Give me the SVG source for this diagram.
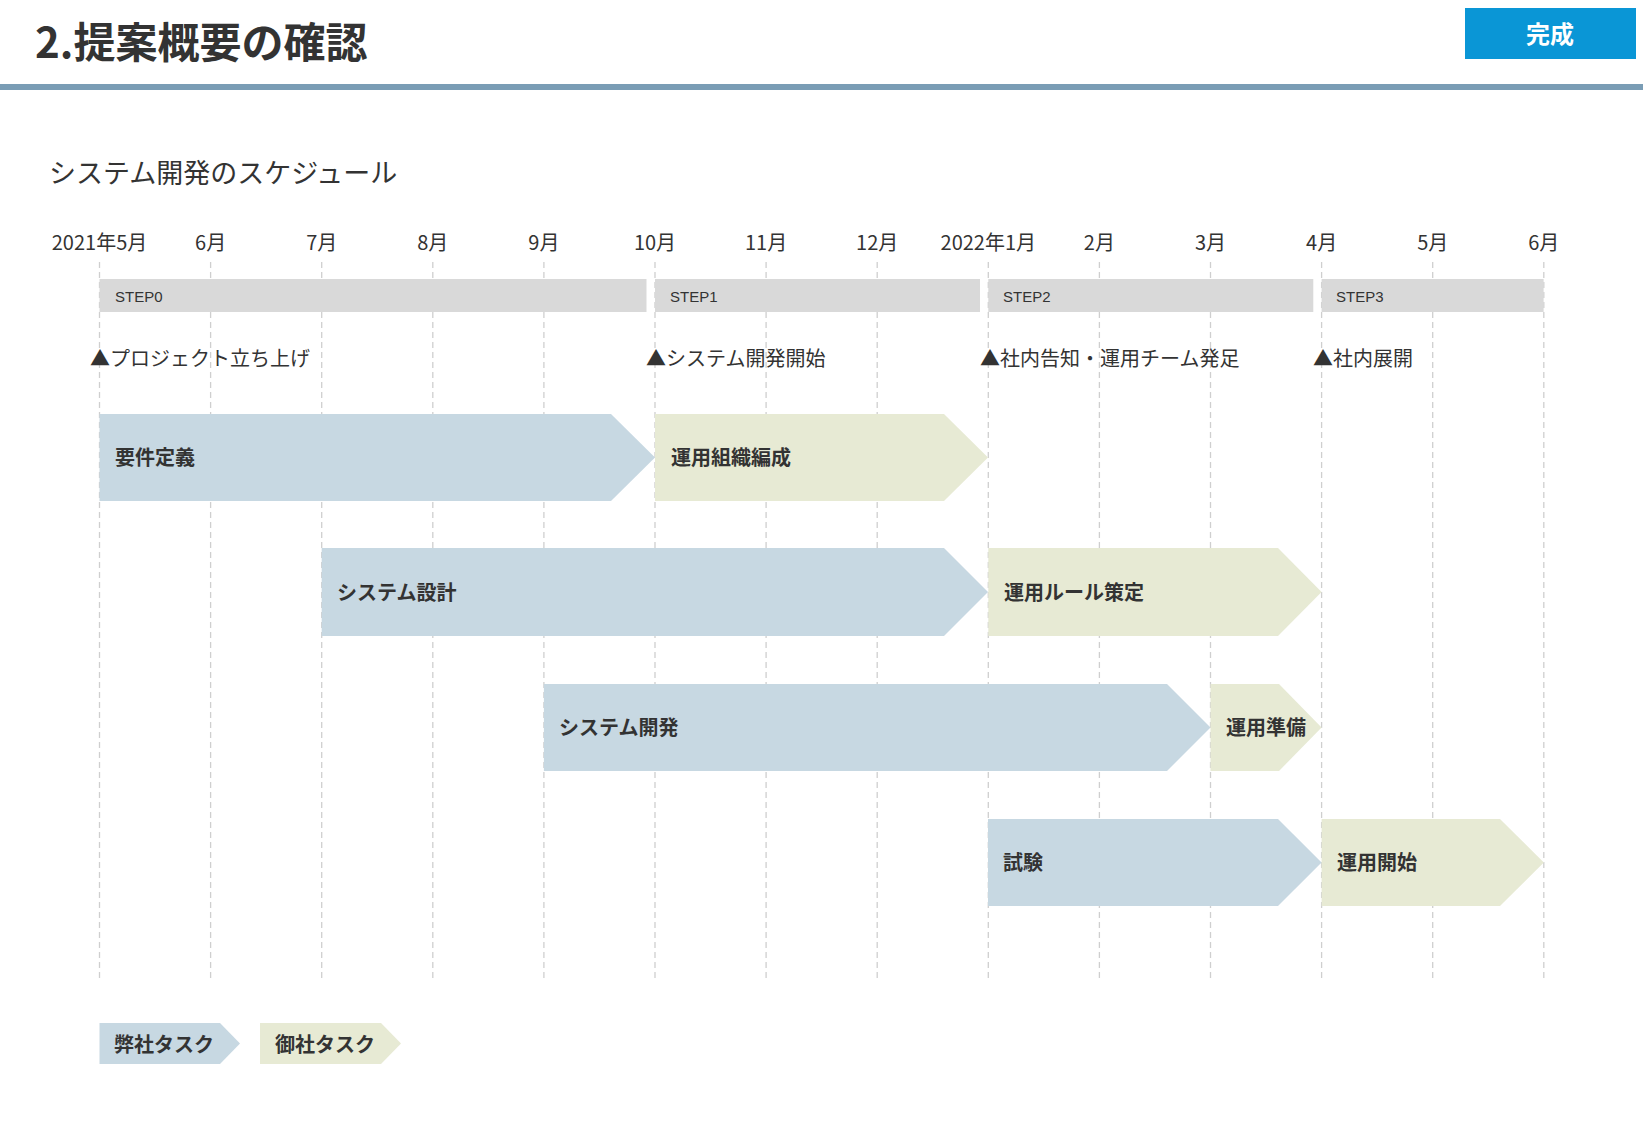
<svg xmlns="http://www.w3.org/2000/svg" width="1643" height="1134" viewBox="0 0 1643 1134">
<style>
text{font-family:"Noto Sans CJK JP","Noto Sans",sans-serif;fill:#333}
.m{font-size:20px;text-anchor:middle}
.g{stroke:#cfcfcf;stroke-width:1.3;stroke-dasharray:6 4}
.st{fill:#d9d9d9}
.stt{font-size:15px;font-family:"Liberation Sans",sans-serif}
.ms{font-size:20px}
.b{fill:#c7d8e2}
.y{fill:#e7ead4}
.t{font-size:20px;font-weight:bold}
</style>
<rect width="1643" height="1134" fill="#fff"/>
<g id="header">
<text x="35" y="58" style="font-size:42px;font-weight:bold">2.提案概要の確認</text>
<rect x="1465" y="8" width="171" height="51" fill="#0a96d6"/>
<text x="1550" y="43" text-anchor="middle" style="font-size:24px;font-weight:bold;fill:#fff">完成</text>
<rect x="0" y="84" width="1643" height="6" fill="#7a9db5"/>
<text x="49" y="183" style="font-size:27px">システム開発のスケジュール</text>
</g>
<g id="grid">
<line class="g" x1="99.5" y1="262" x2="99.5" y2="980"/>
<line class="g" x1="210.6" y1="262" x2="210.6" y2="980"/>
<line class="g" x1="321.7" y1="262" x2="321.7" y2="980"/>
<line class="g" x1="432.8" y1="262" x2="432.8" y2="980"/>
<line class="g" x1="543.9" y1="262" x2="543.9" y2="980"/>
<line class="g" x1="655" y1="262" x2="655" y2="980"/>
<line class="g" x1="766.1" y1="262" x2="766.1" y2="980"/>
<line class="g" x1="877.2" y1="262" x2="877.2" y2="980"/>
<line class="g" x1="988.3" y1="262" x2="988.3" y2="980"/>
<line class="g" x1="1099.4" y1="262" x2="1099.4" y2="980"/>
<line class="g" x1="1210.5" y1="262" x2="1210.5" y2="980"/>
<line class="g" x1="1321.6" y1="262" x2="1321.6" y2="980"/>
<line class="g" x1="1432.7" y1="262" x2="1432.7" y2="980"/>
<line class="g" x1="1543.8" y1="262" x2="1543.8" y2="980"/>
</g>
<g id="months">
<text class="m" x="99.5" y="250">2021年5月</text>
<text class="m" x="210.6" y="250">6月</text>
<text class="m" x="321.7" y="250">7月</text>
<text class="m" x="432.8" y="250">8月</text>
<text class="m" x="543.9" y="250">9月</text>
<text class="m" x="655" y="250">10月</text>
<text class="m" x="766.1" y="250">11月</text>
<text class="m" x="877.2" y="250">12月</text>
<text class="m" x="988.3" y="250">2022年1月</text>
<text class="m" x="1099.4" y="250">2月</text>
<text class="m" x="1210.5" y="250">3月</text>
<text class="m" x="1321.6" y="250">4月</text>
<text class="m" x="1432.7" y="250">5月</text>
<text class="m" x="1543.8" y="250">6月</text>
</g>
<g id="step0"><rect class="st" x="99.5" y="279" width="547" height="33"/><text class="stt" x="115" y="302">STEP0</text></g>
<g id="step1"><rect class="st" x="655" y="279" width="325" height="33"/><text class="stt" x="670" y="302">STEP1</text></g>
<g id="step2"><rect class="st" x="988.3" y="279" width="325" height="33"/><text class="stt" x="1003" y="302">STEP2</text></g>
<g id="step3"><rect class="st" x="1321.6" y="279" width="222" height="33"/><text class="stt" x="1336" y="302">STEP3</text></g>
<g id="milestones">
<text class="ms" x="90" y="366">▲プロジェクト立ち上げ</text>
<text class="ms" x="646" y="366">▲システム開発開始</text>
<text class="ms" x="980" y="366">▲社内告知・運用チーム発足</text>
<text class="ms" x="1313" y="366">▲社内展開</text>
</g>
<g id="t1"><polygon class="b" points="99.5,414 611,414 655,457.5 611,501 99.5,501"/><text class="t" x="115" y="465">要件定義</text></g>
<g id="t2"><polygon class="y" points="655,414 944,414 988,457.5 944,501 655,501"/><text class="t" x="671" y="465">運用組織編成</text></g>
<g id="t3"><polygon class="b" points="321.7,548 944,548 988,592 944,636 321.7,636"/><text class="t" x="337" y="600">システム設計</text></g>
<g id="t4"><polygon class="y" points="988.3,548 1278,548 1321.6,592 1278,636 988.3,636"/><text class="t" x="1004" y="600">運用ルール策定</text></g>
<g id="t5"><polygon class="b" points="543.9,684 1167,684 1210.5,727.5 1167,771 543.9,771"/><text class="t" x="559" y="735">システム開発</text></g>
<g id="t6"><polygon class="y" points="1210.5,684 1279,684 1321.6,727.5 1279,771 1210.5,771"/><text class="t" x="1226" y="735">運用準備</text></g>
<g id="t7"><polygon class="b" points="988,819 1278,819 1321.6,862.5 1278,906 988,906"/><text class="t" x="1003" y="870">試験</text></g>
<g id="t8"><polygon class="y" points="1321.6,819 1500,819 1543.8,862.5 1500,906 1321.6,906"/><text class="t" x="1337" y="870">運用開始</text></g>
<g id="legend">
<polygon class="b" points="99.5,1023 220,1023 240,1043.5 220,1064 99.5,1064"/><text class="t" x="114" y="1052">弊社タスク</text>
<polygon class="y" points="260,1023 381,1023 401,1043.5 381,1064 260,1064"/><text class="t" x="275" y="1052">御社タスク</text>
</g>
<g id="connectors"></g>
</svg>
